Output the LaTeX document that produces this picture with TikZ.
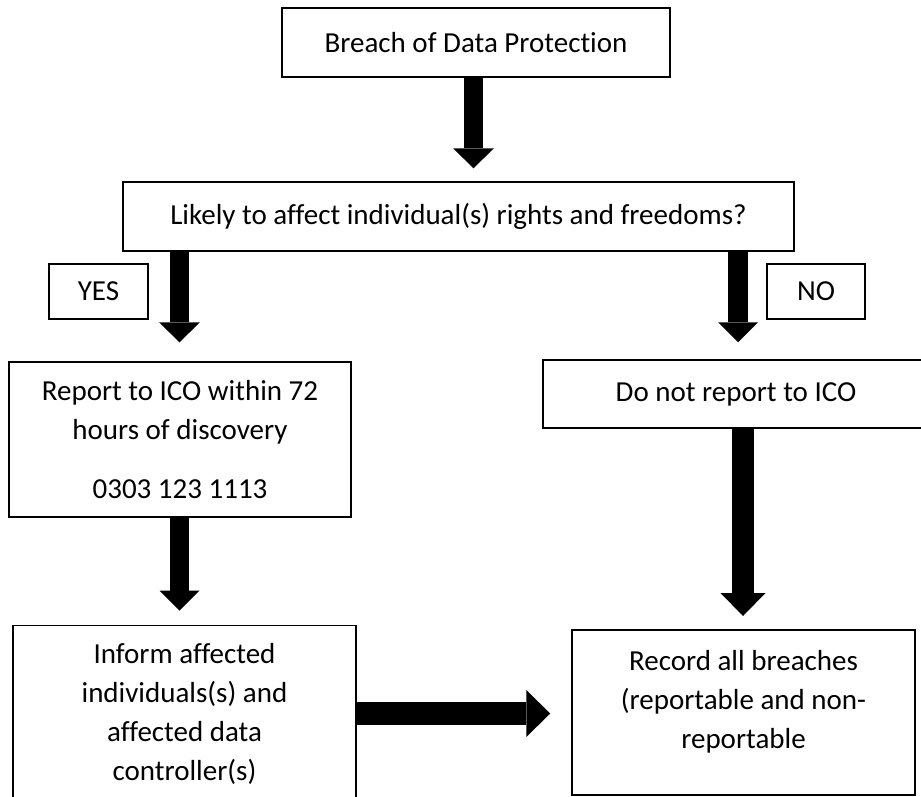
\documentclass[tikz,border=0pt]{standalone}
\usepackage{fontspec}
\setmainfont{Carlito}[Ligatures=NoCommon]
\usetikzlibrary{arrows.meta}
\begin{document}
\begin{tikzpicture}[x=1pt,y=-1pt,
  box/.style={draw, line width=1.5pt, inner sep=0pt, align=center, font=\fontsize{29}{39}\selectfont},
  txt/.style={inner sep=0pt, align=center, font=\fontsize{29}{39}\selectfont},
  barrow/.style n args={3}{draw=black, line width=#1, -{Triangle[width=#2, length=#3, line width=0pt]}}
]
\useasboundingbox (0,0) rectangle (921,796);
\clip (0,0) rectangle (921,796);

% boxes
\node[box, minimum width=388pt, minimum height=69pt] (top) at (476,42.5) {Breach of Data Protection};
\node[box, minimum width=671pt, minimum height=69pt] (q) at (458.5,216.5) {Likely to affect individual(s) rights and freedoms?};
\node[box, minimum width=99pt, minimum height=55pt] (yes) at (98.5,291.5) {YES};
\node[box, minimum width=98pt, minimum height=55pt] (no) at (816,291.5) {NO};
\node[box, minimum width=342pt, minimum height=155pt] (rep) at (180,439.5) {Report to ICO within 72\\hours of discovery\\[20pt]0303 123 1113};
\node[box, minimum width=386pt, minimum height=68pt] (dnr) at (736,394) {Do not report to ICO};
\node[box, minimum width=343pt, minimum height=200pt, anchor=north] (inf) at (184.5,624.5) {};
\node[txt] (inft) at (184.5,713.5) {Inform affected\\individuals(s) and\\affected data\\controller(s)};
\node[box, minimum width=343pt, minimum height=165pt, anchor=north] (rec) at (743.5,629) {};
\node[txt] (rect) at (743.5,702) {Record all breaches\\(reportable and non-\\reportable};

% helper coordinates for arrow axes
\coordinate (x1) at (473.5,0);
\coordinate (x2) at (179.5,0);
\coordinate (x3) at (738,0);
\coordinate (x5) at (743,0);
\coordinate (y6) at (0,713.5);

% arrows
\draw[barrow={19pt}{41pt}{20pt}, shorten >=13pt] (top.south -| x1) -- (q.north -| x1);
\draw[barrow={19pt}{41pt}{20pt}, shorten >=19pt] (q.south -| x2) -- (rep.north -| x2);
\draw[barrow={20pt}{40pt}{20pt}, shorten >=17pt] (q.south -| x3) -- (dnr.north -| x3);
\draw[barrow={19pt}{40pt}{20pt}, shorten >=14pt] (rep.south -| x2) -- (inf.north -| x2);
\draw[barrow={22pt}{45pt}{23pt}, shorten >=13pt] (dnr.south -| x5) -- (rec.north -| x5);
\draw[barrow={23pt}{47pt}{24pt}, shorten >=21pt] (inf.east |- y6) -- (rec.west |- y6);
\end{tikzpicture}
\end{document}
